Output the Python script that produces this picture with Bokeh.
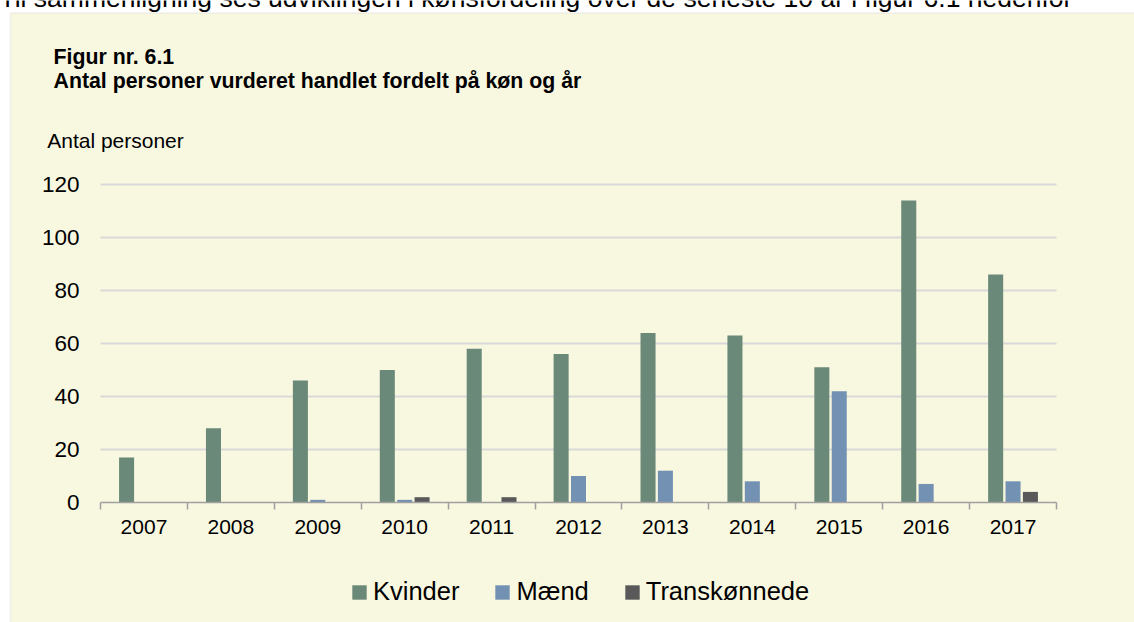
from bokeh.plotting import figure
from bokeh.models import (Range1d, FixedTicker, Legend, LegendItem, Label,
                          BoxAnnotation)
from bokeh.embed import file_html
from bokeh.resources import INLINE

# ---- data ----
years = ["2007", "2008", "2009", "2010", "2011", "2012", "2013", "2014", "2015", "2016", "2017"]
kvinder = [17, 28, 46, 50, 58, 56, 64, 63, 51, 114, 86]
maend = [0, 0, 1, 1, 0, 10, 12, 8, 42, 7, 8]
trans = [0, 0, 0, 2, 2, 0, 0, 0, 0, 0, 4]
series_names = ["Kvinder", "Mænd", "Transkønnede"]
y_ticks = [0, 20, 40, 60, 80, 100, 120]

top_text = "Til sammenligning ses udviklingen i kønsfordeling over de seneste 10 år i figur 6.1 nedenfor"
title1 = "Figur nr. 6.1"
title2 = "Antal personer vurderet handlet fordelt på køn og år"
y_title = "Antal personer"

# ---- style / layout ----
colors = ["#6b8978", "#7391b2", "#595959"]
beige = "#f8f7e0"
grid_col = "#d9d9d9"
axis_col = "#a0a0a0"
FONT = "Liberation Sans"

W, H = 1134, 622
# plot area in pixels: x 100..1056, y (value 0) 502 .. (value 120) 184
PX_L, PX_R, PY_0, PY_TOP = 100, 1056, 502, 184
ymax = y_ticks[-1]
xpp = len(years) / (PX_R - PX_L)          # data units per pixel (x)
ypp = ymax / (PY_0 - PY_TOP)              # data units per pixel (y)
x_range = Range1d(-PX_L * xpp, len(years) + (W - PX_R) * xpp)
y_range = Range1d(-(H - PY_0) * ypp, ymax + PY_TOP * ypp)

p = figure(width=W, height=H, output_backend="svg", toolbar_location=None,
           x_range=x_range, y_range=y_range, min_border=0,
           min_border_left=0, min_border_right=0, min_border_top=0,
           min_border_bottom=0)
p.border_fill_color = "white"
p.background_fill_color = "white"
p.outline_line_color = None
p.xgrid.visible = False
p.ygrid.visible = False

# beige panel with grey border (white margin strip top/left)
panel = BoxAnnotation(left=10, right=W + 20, top=12.5, bottom=H + 20,
                      left_units="canvas", right_units="canvas",
                      top_units="canvas", bottom_units="canvas",
                      fill_color=beige, fill_alpha=1.0,
                      line_color=grid_col, line_width=2, level="underlay")
p.add_layout(panel)

# horizontal gridlines across the category span
grid_y = y_ticks[1:]
p.segment(x0=[0] * len(grid_y), x1=[len(years)] * len(grid_y), y0=grid_y, y1=grid_y,
          line_color=grid_col, line_width=2)

centers = [i + 0.5 for i in range(len(years))]
offsets = [-0.2, 0.0, 0.2]
renderers = []
for vals, off, col in zip([kvinder, maend, trans], offsets, colors):
    r = p.vbar(x=[c + off for c in centers], top=vals, bottom=0, width=0.173,
               fill_color=col, line_color=None)
    renderers.append(r)

# x axis drawn at value 0
xa = p.xaxis[0]
xa.fixed_location = 0
xa.bounds = (0, len(years))
xa.ticker = FixedTicker(ticks=centers, minor_ticks=list(range(len(years) + 1)))
xa.major_label_overrides = {c: y for c, y in zip(centers, years)}
xa.major_tick_line_color = None
xa.major_tick_out = 0
xa.major_tick_in = 0
xa.minor_tick_line_color = axis_col
xa.minor_tick_line_width = 1.5
xa.minor_tick_out = 7
xa.minor_tick_in = 0
xa.axis_line_color = axis_col
xa.axis_line_width = 1.5
xa.major_label_text_font = FONT
xa.major_label_text_font_size = "21px"
xa.major_label_text_color = "#000000"
xa.major_label_standoff = 10

# y axis drawn at category start
ya = p.yaxis[0]
ya.fixed_location = 0
ya.bounds = (0, ymax)
ya.ticker = FixedTicker(ticks=y_ticks)
ya.axis_line_color = None
ya.major_tick_line_color = None
ya.minor_tick_line_color = None
ya.major_tick_out = 0
ya.major_tick_in = 0
ya.major_label_standoff = 21
ya.major_label_text_font = FONT
ya.major_label_text_font_size = "22.5px"
ya.major_label_text_color = "#000000"

# legend
legend = Legend(items=[LegendItem(label=n, renderers=[r]) for n, r in zip(series_names, renderers)],
                orientation="horizontal", location=(350, 16))
legend.background_fill_alpha = 0
legend.border_line_color = None
legend.padding = 0
legend.margin = 0
legend.spacing = 34
legend.label_standoff = 5
legend.glyph_width = 18
legend.glyph_height = 18
legend.label_text_font = FONT
legend.label_text_font_size = "25.5px"
legend.label_text_color = "#000000"
p.add_layout(legend)

# texts
def add_text(txt, x, y, size, bold=False):
    p.add_layout(Label(x=x, y=y, x_units="canvas", y_units="canvas", text=txt,
                       text_font=FONT, text_font_size=size,
                       text_font_style="bold" if bold else "normal",
                       text_baseline="alphabetic", text_color="#000000"))

add_text(top_text, -1, -3, "26.5px")
add_text(title1, 53, 56, "21.3px", True)
add_text(title2, 53, 80.3, "21.3px", True)
add_text(y_title, 46.7, 140.3, "21px")

open("out.html", "w").write(file_html(p, INLINE))
